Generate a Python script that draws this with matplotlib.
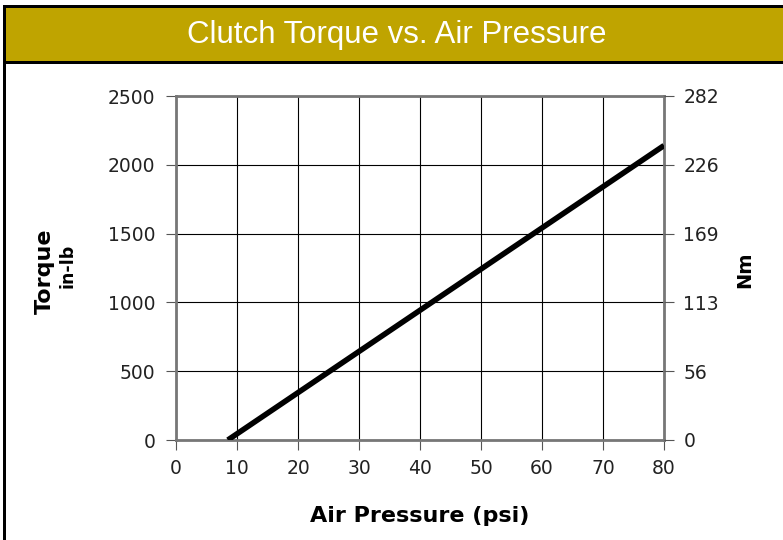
import matplotlib.pyplot as plt
from matplotlib.patches import Rectangle

# Data
pressure = [8.5, 80]
torque = [0, 2140]
x_ticks = [0, 10, 20, 30, 40, 50, 60, 70, 80]
y_ticks = [0, 500, 1000, 1500, 2000, 2500]
nm_labels = ['0', '56', '113', '169', '226', '282']

W, H = 783, 540
fig = plt.figure(figsize=(W / 100, H / 100), dpi=100)
fig.patch.set_facecolor('white')

# Banner and frame
fig.patches.append(Rectangle((5 / W, 1 - 62 / H), 1, 55 / H, transform=fig.transFigure,
                             facecolor='#BFA400', edgecolor='none', zorder=0))
fig.patches.append(Rectangle((3 / W, 1 - 8 / H), 1, 3 / H, transform=fig.transFigure,
                             facecolor='black', edgecolor='none', zorder=1))
fig.patches.append(Rectangle((3 / W, 1 - 64 / H), 1, 3 / H, transform=fig.transFigure,
                             facecolor='black', edgecolor='none', zorder=1))
fig.patches.append(Rectangle((3 / W, 0), 3 / W, 1 - 5 / H, transform=fig.transFigure,
                             facecolor='black', edgecolor='none', zorder=1))
fig.text(397 / W, 1 - 35 / H, 'Clutch Torque vs. Air Pressure', color='white',
         fontsize=22.5, ha='center', va='center',
         family=['Liberation Sans Narrow', 'Liberation Sans', 'DejaVu Sans'])

left, right, top, bottom = 176, 664, 96, 440
ax = fig.add_axes([left / W, 1 - bottom / H, (right - left) / W, (bottom - top) / H])
ax.plot(pressure, torque, color='black', linewidth=4, solid_capstyle='butt', zorder=3)
ax.set_xlim(0, 80)
ax.set_ylim(0, 2500)
ax.set_xticks(x_ticks)
ax.set_yticks(y_ticks)
ax.grid(True, color='black', linewidth=0.8)
for s in ax.spines.values():
    s.set_color('#777777')
    s.set_linewidth(2)
ax.tick_params(direction='out', length=7, width=0.8, color='#555555',
               labelsize=13.5, pad=8, labelcolor='#222222')
ax.tick_params(axis='x', pad=7)

ax2 = ax.twinx()
ax2.set_ylim(0, 2500)
ax2.set_yticks(y_ticks)
ax2.set_yticklabels(nm_labels)
ax2.tick_params(direction='out', length=7, width=0.8, color='#555555',
                labelsize=13.5, pad=7, labelcolor='#222222')
for s in ax2.spines.values():
    s.set_visible(False)

fig.text(420 / W, 1 - 516 / H, 'Air Pressure (psi)', fontsize=16, fontweight='bold',
         ha='center', va='center')
fig.text(45 / W, 1 - 271 / H, 'Torque', fontsize=16, fontweight='bold',
         ha='center', va='center', rotation=90)
fig.text(68 / W, 1 - 266 / H, 'in-lb', fontsize=12.5, fontweight='bold',
         ha='center', va='center', rotation=90)
fig.text(745 / W, 1 - 270 / H, 'Nm', fontsize=14, fontweight='bold',
         ha='center', va='center', rotation=90)

fig.savefig('out.png', dpi=100)
